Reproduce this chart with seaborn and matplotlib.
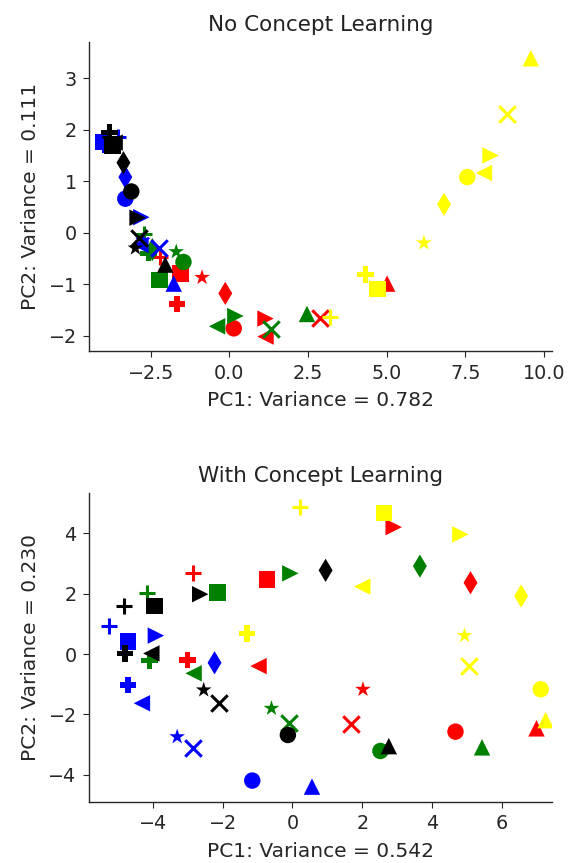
import matplotlib
matplotlib.use("Agg")
import matplotlib.pyplot as plt
import seaborn as sns

sns.set_style("ticks")
plt.rcParams["xtick.major.size"] = 4.5
plt.rcParams["ytick.major.size"] = 4.5
plt.rcParams["xtick.major.pad"] = 4.5
plt.rcParams["ytick.major.pad"] = 4.5
plt.rcParams["axes.labelpad"] = 6
plt.rcParams["axes.titlepad"] = 8
plt.rcParams["axes.linewidth"] = 1.0

colors = ["red", "green", "blue", "black", "yellow"]
markers = ["o", "^", ">", "<", "d", "s", "P", "+", "x", "*"]

# top panel: x/y per colour, in marker order o ^ > < d s P + x *
no_cl_x = {
    "red":    [0.14, 5.02, 1.15, 1.15, -0.13, -1.56, -1.67, -2.20, 2.88, -0.87],
    "green":  [-1.46, 2.47, 0.19, -0.39, -2.45, -2.22, -2.57, -2.73, 1.31, -1.69],
    "blue":   [-3.31, -1.77, -2.80, -2.83, -3.31, -4.02, -3.95, -3.55, -2.25, -2.75],
    "black":  [-3.12, -2.04, -2.92, -3.65, -3.37, -3.72, -3.82, -3.79, -2.89, -2.99],
    "yellow": [7.57, 9.59, 8.31, 8.10, 6.83, 4.72, 4.33, 3.19, 8.84, 6.19],
}
no_cl_y = {
    "red":    [-1.86, -0.99, -1.67, -2.02, -1.18, -0.79, -1.39, -0.48, -1.65, -0.87],
    "green":  [-0.57, -1.58, -1.62, -1.82, -0.33, -0.92, -0.40, -0.02, -1.88, -0.37],
    "blue":   [0.66, -0.99, 0.30, -0.24, 1.08, 1.76, 1.70, 1.85, -0.30, -0.15],
    "black":  [0.80, -0.62, 0.29, 1.75, 1.36, 1.68, 1.95, 1.85, -0.11, -0.30],
    "yellow": [1.08, 3.39, 1.50, 1.16, 0.55, -1.10, -0.81, -1.63, 2.31, -0.20],
}

# bottom panel
cl_x = {
    "red":    [4.67, 6.99, 2.90, -0.97, 5.10, -0.73, -3.00, -2.85, 1.68, 2.02],
    "green":  [2.52, 5.43, -0.06, -2.83, 3.65, -2.14, -4.09, -4.15, -0.11, -0.60],
    "blue":   [-1.15, 0.56, -3.91, -4.31, -2.23, -4.71, -4.71, -5.24, -2.85, -3.30],
    "black":  [-0.13, 2.76, -2.64, -4.04, 0.95, -3.95, -4.80, -4.83, -2.11, -2.54],
    "yellow": [7.11, 7.25, 4.81, 2.00, 6.55, 2.62, -1.30, 0.23, 5.05, 4.93],
}
cl_y = {
    "red":    [-2.57, -2.46, 4.20, -0.40, 2.36, 2.47, -0.20, 2.69, -2.33, -1.17],
    "green":  [-3.21, -3.09, 2.67, -0.64, 2.91, 2.03, -0.22, 2.03, -2.27, -1.80],
    "blue":   [-4.19, -4.39, 0.61, -1.63, -0.29, 0.41, -1.03, 0.93, -3.12, -2.74],
    "black":  [-2.68, -3.05, 1.98, 0.02, 2.77, 1.59, 0.02, 1.59, -1.63, -1.19],
    "yellow": [-1.17, -2.19, 3.96, 2.23, 1.92, 4.66, 0.68, 4.88, -0.40, 0.61],
}


def draw(ax, xs, ys):
    # colour by colour so later colours sit on top; one marker per call
    for c in colors:
        for m, x, y in zip(markers, xs[c], ys[c]):
            if m in ["+", "x"]:
                sns.scatterplot(x=[x], y=[y], color=c, marker=m, s=140, linewidth=2.2, ax=ax)
            else:
                sns.scatterplot(x=[x], y=[y], color=c, marker=m, s=140, edgecolor="none", ax=ax)


fig, (ax1, ax2) = plt.subplots(2, 1, figsize=(5.68, 8.63), dpi=100)
fig.subplots_adjust(left=0.157, right=0.971, top=0.951, bottom=0.071, hspace=0.46)

draw(ax1, no_cl_x, no_cl_y)
ax1.set_xlim(-4.46, 10.25)
ax1.set_ylim(-2.30, 3.70)
ax1.set_xticks([-2.5, 0.0, 2.5, 5.0, 7.5, 10.0])
ax1.set_yticks([-2, -1, 0, 1, 2, 3])
ax1.set_title("No Concept Learning", fontsize=15.5, color="#222222")
ax1.set_xlabel("PC1: Variance = 0.782", fontsize=14.5)
ax1.set_ylabel("PC2: Variance = 0.111", fontsize=14.5)

draw(ax2, cl_x, cl_y)
ax2.set_xlim(-5.82, 7.42)
ax2.set_ylim(-4.89, 5.33)
ax2.set_xticks([-4, -2, 0, 2, 4, 6])
ax2.set_yticks([-4, -2, 0, 2, 4])
ax2.set_title("With Concept Learning", fontsize=15.5, color="#222222")
ax2.set_xlabel("PC1: Variance = 0.542", fontsize=14.5)
ax2.set_ylabel("PC2: Variance = 0.230", fontsize=14.5)

for ax in (ax1, ax2):
    ax.tick_params(labelsize=13.8)

sns.despine(fig)
fig.savefig("out.png", dpi=100)
